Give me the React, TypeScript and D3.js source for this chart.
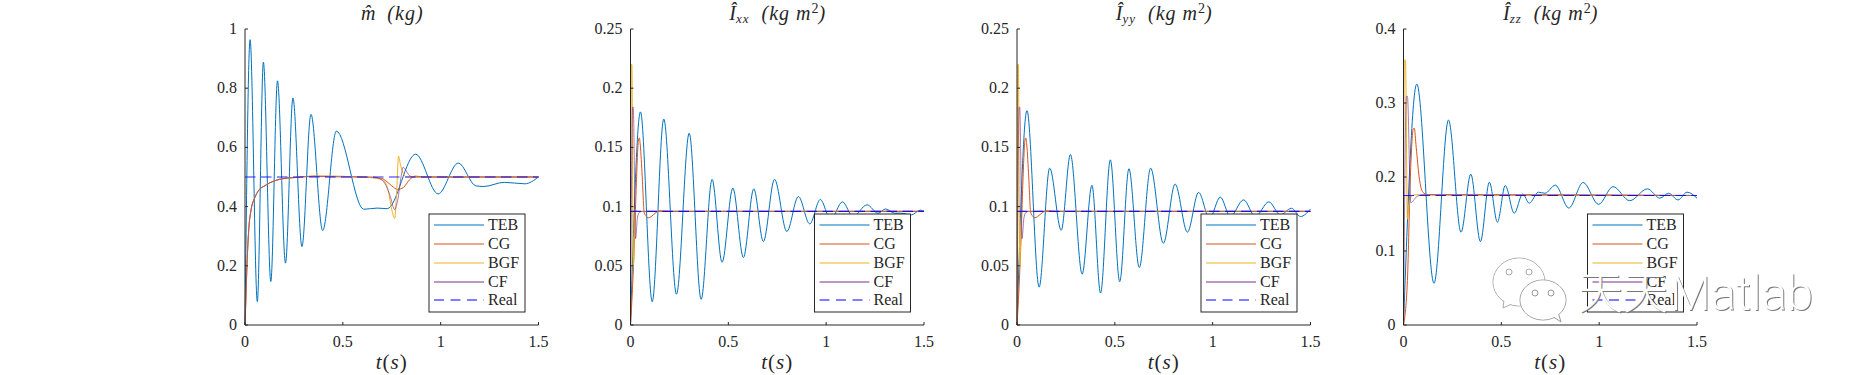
import React from "react";
import * as d3 from "d3";

type P = [number, number];

const SERIES_NAMES = ["TEB", "CG", "BGF", "CF", "Real"];
const COLORS = ["#0072BD", "#D95319", "#EDB120", "#7E2F8E", "#0000FF"];
const X_TICKS = [0, 0.5, 1, 1.5];

const realM = 0.5;
const realIxx = 0.096;
const realIyy = 0.096;
const realIzz = 0.175;

const tebM: P[] = [[0,0],[0.026,0.964],[0.063,0.079],[0.094,0.888],[0.132,0.147],[0.166,0.825],[0.207,0.209],[0.245,0.767],[0.291,0.265],[0.337,0.712],[0.397,0.319],[0.467,0.655],[0.607,0.391],[0.675,0.395],[0.727,0.393],[0.872,0.577],[0.987,0.443],[1.09,0.547],[1.18,0.47],[1.22,0.468],[1.325,0.482],[1.43,0.477],[1.5,0.5]];
const cgM: P[] = [[0,0],[0.005,0.1],[0.01,0.2],[0.02,0.33],[0.03,0.385],[0.05,0.43],[0.07,0.455],[0.1,0.47],[0.15,0.487],[0.2,0.495],[0.25,0.498],[0.35,0.503],[0.5,0.502],[0.6,0.5],[0.7,0.495],[0.72,0.487],[0.75,0.47],[0.78,0.458],[0.81,0.465],[0.84,0.49],[0.87,0.503],[0.92,0.5],[1.5,0.5]];
const bgfM: P[] = [[0,0],[0.005,0.1],[0.01,0.2],[0.02,0.33],[0.03,0.385],[0.05,0.43],[0.07,0.455],[0.1,0.47],[0.15,0.487],[0.2,0.495],[0.25,0.498],[0.35,0.503],[0.5,0.502],[0.6,0.5],[0.7,0.492],[0.73,0.46],[0.75,0.39],[0.765,0.36],[0.775,0.45],[0.785,0.57],[0.795,0.54],[0.81,0.51],[0.83,0.5],[1.5,0.5]];
const cfM: P[] = [[0,0],[0.005,0.1],[0.01,0.2],[0.02,0.33],[0.03,0.385],[0.05,0.43],[0.07,0.455],[0.1,0.47],[0.15,0.487],[0.2,0.495],[0.25,0.498],[0.35,0.502],[0.5,0.5],[0.65,0.5],[0.7,0.49],[0.74,0.44],[0.765,0.39],[0.78,0.42],[0.8,0.51],[0.808,0.533],[0.82,0.525],[0.84,0.505],[0.86,0.5],[1.5,0.5]];

const tebIxx: P[] = [[0,0],[0.051,0.18],[0.111,0.0197],[0.17,0.174],[0.235,0.026],[0.3,0.162],[0.361,0.0217],[0.417,0.123],[0.468,0.053],[0.523,0.1156],[0.577,0.057],[0.63,0.115],[0.679,0.0705],[0.736,0.123],[0.799,0.079],[0.858,0.1085],[0.916,0.0854],[0.97,0.106],[1.023,0.089],[1.083,0.104],[1.137,0.0916],[1.209,0.1015],[1.265,0.0944],[1.304,0.098],[1.35,0.0944],[1.38,0.0945],[1.435,0.093],[1.481,0.097],[1.5,0.096]];
const cgIxx: P[] = [[0,0],[0.01,0.03],[0.02,0.07],[0.03,0.12],[0.04,0.155],[0.045,0.158],[0.05,0.152],[0.06,0.125],[0.07,0.095],[0.08,0.092],[0.09,0.0905],[0.105,0.0915],[0.13,0.095],[0.15,0.0965],[0.2,0.096],[1.5,0.096]];
const bgfIxx: P[] = [[0,0],[0.004,0.22],[0.007,0.22],[0.014,0.049],[0.024,0.098],[0.035,0.096],[1.5,0.096]];
const cfIxx: P[] = [[0,0],[0.011,0.184],[0.014,0.184],[0.026,0.073],[0.035,0.09],[0.045,0.095],[0.06,0.096],[1.5,0.096]];

const tebIyy: P[] = [[0,0],[0.051,0.181],[0.113,0.032],[0.167,0.1325],[0.226,0.08],[0.273,0.144],[0.333,0.043],[0.383,0.118],[0.427,0.027],[0.477,0.1395],[0.525,0.0366],[0.572,0.132],[0.625,0.0485],[0.683,0.1325],[0.748,0.069],[0.808,0.119],[0.871,0.0784],[0.928,0.112],[0.984,0.09],[1.039,0.108],[1.09,0.0916],[1.158,0.1057],[1.218,0.0916],[1.287,0.104],[1.346,0.093],[1.403,0.0986],[1.449,0.0916],[1.5,0.098]];
const cgIyy: P[] = cgIxx;
const bgfIyy: P[] = bgfIxx;
const cfIyy: P[] = cfIxx;

const tebIzz: P[] = [[0,0],[0.068,0.3256],[0.156,0.0564],[0.23,0.277],[0.294,0.1254],[0.344,0.2038],[0.393,0.1127],[0.439,0.193],[0.48,0.139],[0.52,0.1885],[0.566,0.151],[0.609,0.177],[0.643,0.1646],[0.689,0.1795],[0.723,0.178],[0.776,0.189],[0.845,0.158],[0.918,0.1926],[0.997,0.163],[1.071,0.187],[1.156,0.168],[1.247,0.184],[1.31,0.1714],[1.355,0.178],[1.403,0.169],[1.449,0.1795],[1.5,0.1714]];
const cgIzz: P[] = [[0,0],[0.02,0.06],[0.035,0.2],[0.05,0.265],[0.055,0.266],[0.065,0.24],[0.08,0.2],[0.09,0.185],[0.105,0.178],[0.13,0.176],[0.2,0.176],[1.5,0.175]];
const bgfIzz: P[] = [[0,0],[0.004,0.358],[0.01,0.358],[0.02,0.143],[0.03,0.165],[0.045,0.175],[0.06,0.176],[1.5,0.175]];
const cfIzz: P[] = [[0,0],[0.015,0.309],[0.02,0.309],[0.037,0.165],[0.05,0.168],[0.07,0.174],[0.1,0.176],[1.5,0.175]];

const FONT = "'Liberation Serif', serif";
const INK = "#262626";
const DASH = "10.5 5.5";

function Title({ cx, sub, kind }: { cx: number; sub?: string; kind: string }) {
  return (
    <text x={cx} y={20} textAnchor="middle" fontFamily={FONT} fontSize={20} fontStyle="italic" fill={INK}>
      {kind === "m" ? "m\u0302" : <>
        {"I\u0302"}
        <tspan fontSize={13} dy={3} letterSpacing={1}>{sub}</tspan>
      </>}
      <tspan dy={kind === "m" ? 0 : -3} letterSpacing={1}>{"\u00A0\u00A0(kg"}</tspan>
      {kind !== "m" && <tspan letterSpacing={1}>{"\u00A0m"}</tspan>}
      {kind !== "m" && <tspan fontSize={14} fontStyle="normal" dy={-7}>2</tspan>}
      <tspan dy={kind === "m" ? 0 : 7}>)</tspan>
    </text>
  );
}

function Panel({ left, yMax, yTicks, teb, cg, bgf, cf, real, sub, kind, fmt }: {
  left: number; yMax: number; yTicks: number[]; teb: P[]; cg: P[]; bgf: P[]; cf: P[]; real: number; sub?: string; kind: string; fmt: (v: number) => string;
}) {
  const top = 29, bottom = 325, width = 293.5;
  const x = d3.scaleLinear().domain([0, 1.5]).range([left, left + width]);
  const y = d3.scaleLinear().domain([0, yMax]).range([bottom, top]);
  const smooth = d3.line<P>().x(d => x(d[0])).y(d => y(d[1])).curve(d3.curveMonotoneX);
  const realLine: P[] = [[0, real], [1.5, real]];
  const lx = left + 184, lw = 96, lt = 214, lh = 98;
  const rows = [225, 244, 263, 282, 300];
  return (
    <g>
      <path d={smooth(teb) ?? ""} fill="none" stroke={COLORS[0]} strokeWidth={1} />
      <path d={smooth(cg) ?? ""} fill="none" stroke={COLORS[1]} strokeWidth={1} />
      <path d={smooth(bgf) ?? ""} fill="none" stroke={COLORS[2]} strokeWidth={1} />
      <path d={smooth(cf) ?? ""} fill="none" stroke={COLORS[3]} strokeWidth={1} strokeOpacity={0.65} />
      <path d={d3.line<P>().x(d => x(d[0])).y(d => y(d[1]))(realLine) ?? ""} fill="none" stroke={COLORS[4]} strokeWidth={1.2} strokeDasharray={DASH} opacity={0.85} />
      <line x1={left} x2={left} y1={top} y2={bottom} stroke={INK} />
      <line x1={left} x2={left + width} y1={bottom} y2={bottom} stroke={INK} />
      {yTicks.map(t => (
        <g key={t}>
          <line x1={left} x2={left + 3} y1={y(t)} y2={y(t)} stroke={INK} />
          <text x={left - 8} y={y(t) + 5} textAnchor="end" fontFamily={FONT} fontSize={16} fill={INK}>{fmt(t)}</text>
        </g>
      ))}
      {X_TICKS.map(t => (
        <g key={t}>
          <line x1={x(t)} x2={x(t)} y1={bottom} y2={bottom - 3} stroke={INK} />
          <text x={x(t)} y={347} textAnchor="middle" fontFamily={FONT} fontSize={16} fill={INK}>{t}</text>
        </g>
      ))}
      <text x={left + width / 2} y={369} textAnchor="middle" fontFamily={FONT} fontSize={21} fontStyle="italic" letterSpacing={1} fill={INK}>t<tspan fontStyle="normal">(</tspan>s<tspan fontStyle="normal">)</tspan></text>
      <Title cx={left + width / 2} sub={sub} kind={kind} />
      <rect x={lx} y={lt} width={lw} height={lh} fill="#fff" stroke={INK} strokeWidth={1} />
      {SERIES_NAMES.map((n, i) => (
        <g key={n}>
          <line x1={lx + 5} x2={lx + 55} y1={rows[i]} y2={rows[i]} stroke={COLORS[i]} strokeWidth={1} strokeDasharray={i === 4 ? "10 6.5" : undefined} />
          <text x={lx + 59} y={rows[i] + 5} fontFamily={FONT} fontSize={16} fill={INK}>{n}</text>
        </g>
      ))}
    </g>
  );
}

function Watermark() {
  const bubble = (cx: number, cy: number, rx: number, ry: number, tail: string, e: number, gap: number, stroke: string, fill: string) => (
    <g>
      <ellipse cx={cx} cy={cy} rx={rx} ry={ry} fill={fill} stroke={stroke} />
      <path d={tail} fill={fill} stroke={stroke} />
      <ellipse cx={cx} cy={cy} rx={rx - 0.5} ry={ry - 0.5} fill={fill} />
      <circle cx={cx - gap} cy={cy - e} r={3} fill={fill} stroke={stroke} />
      <circle cx={cx + gap} cy={cy - e} r={3} fill={fill} stroke={stroke} />
    </g>
  );
  const textLayer = (fill: string, d: number) => (
    <g transform={`translate(${d},${d})`} fill={fill}>
      <text x={1578} y={309} fontFamily="'Noto Sans CJK SC'" fontWeight={300} fontSize={45}>天天</text>
      <text x={1670} y={310} fontFamily="Roboto" fontWeight={300} fontSize={49} textLength={143} lengthAdjust="spacingAndGlyphs">Matlab</text>
    </g>
  );
  return (
    <g>
      {textLayer("#777", 1)}
      {textLayer("#fff", 0)}
      {bubble(1519, 282, 26, 24, "M1504,300 L1503,308 L1516,302", 10, 10, "#aaa", "#fff")}
      {bubble(1543, 300, 23, 20, "M1552,316 L1561,322 L1558,312", 7, 8, "#999", "#fff")}
    </g>
  );
}

const fmt = (v: number) => String(v);

export default function App() {
  return (
    <svg width={1875} height={375} style={{ position: "absolute", left: 0, top: 0, background: "#fff" }}>
      <Panel left={245} yMax={1} yTicks={[0,0.2,0.4,0.6,0.8,1]} teb={tebM} cg={cgM} bgf={bgfM} cf={cfM} real={realM} kind="m" fmt={fmt} />
      <Panel left={630.5} yMax={0.25} yTicks={[0,0.05,0.1,0.15,0.2,0.25]} teb={tebIxx} cg={cgIxx} bgf={bgfIxx} cf={cfIxx} real={realIxx} sub="xx" kind="I" fmt={fmt} />
      <Panel left={1017} yMax={0.25} yTicks={[0,0.05,0.1,0.15,0.2,0.25]} teb={tebIyy} cg={cgIyy} bgf={bgfIyy} cf={cfIyy} real={realIyy} sub="yy" kind="I" fmt={fmt} />
      <Panel left={1403.5} yMax={0.4} yTicks={[0,0.1,0.2,0.3,0.4]} teb={tebIzz} cg={cgIzz} bgf={bgfIzz} cf={cfIzz} real={realIzz} sub="zz" kind="I" fmt={fmt} />
      <Watermark />
    </svg>
  );
}
